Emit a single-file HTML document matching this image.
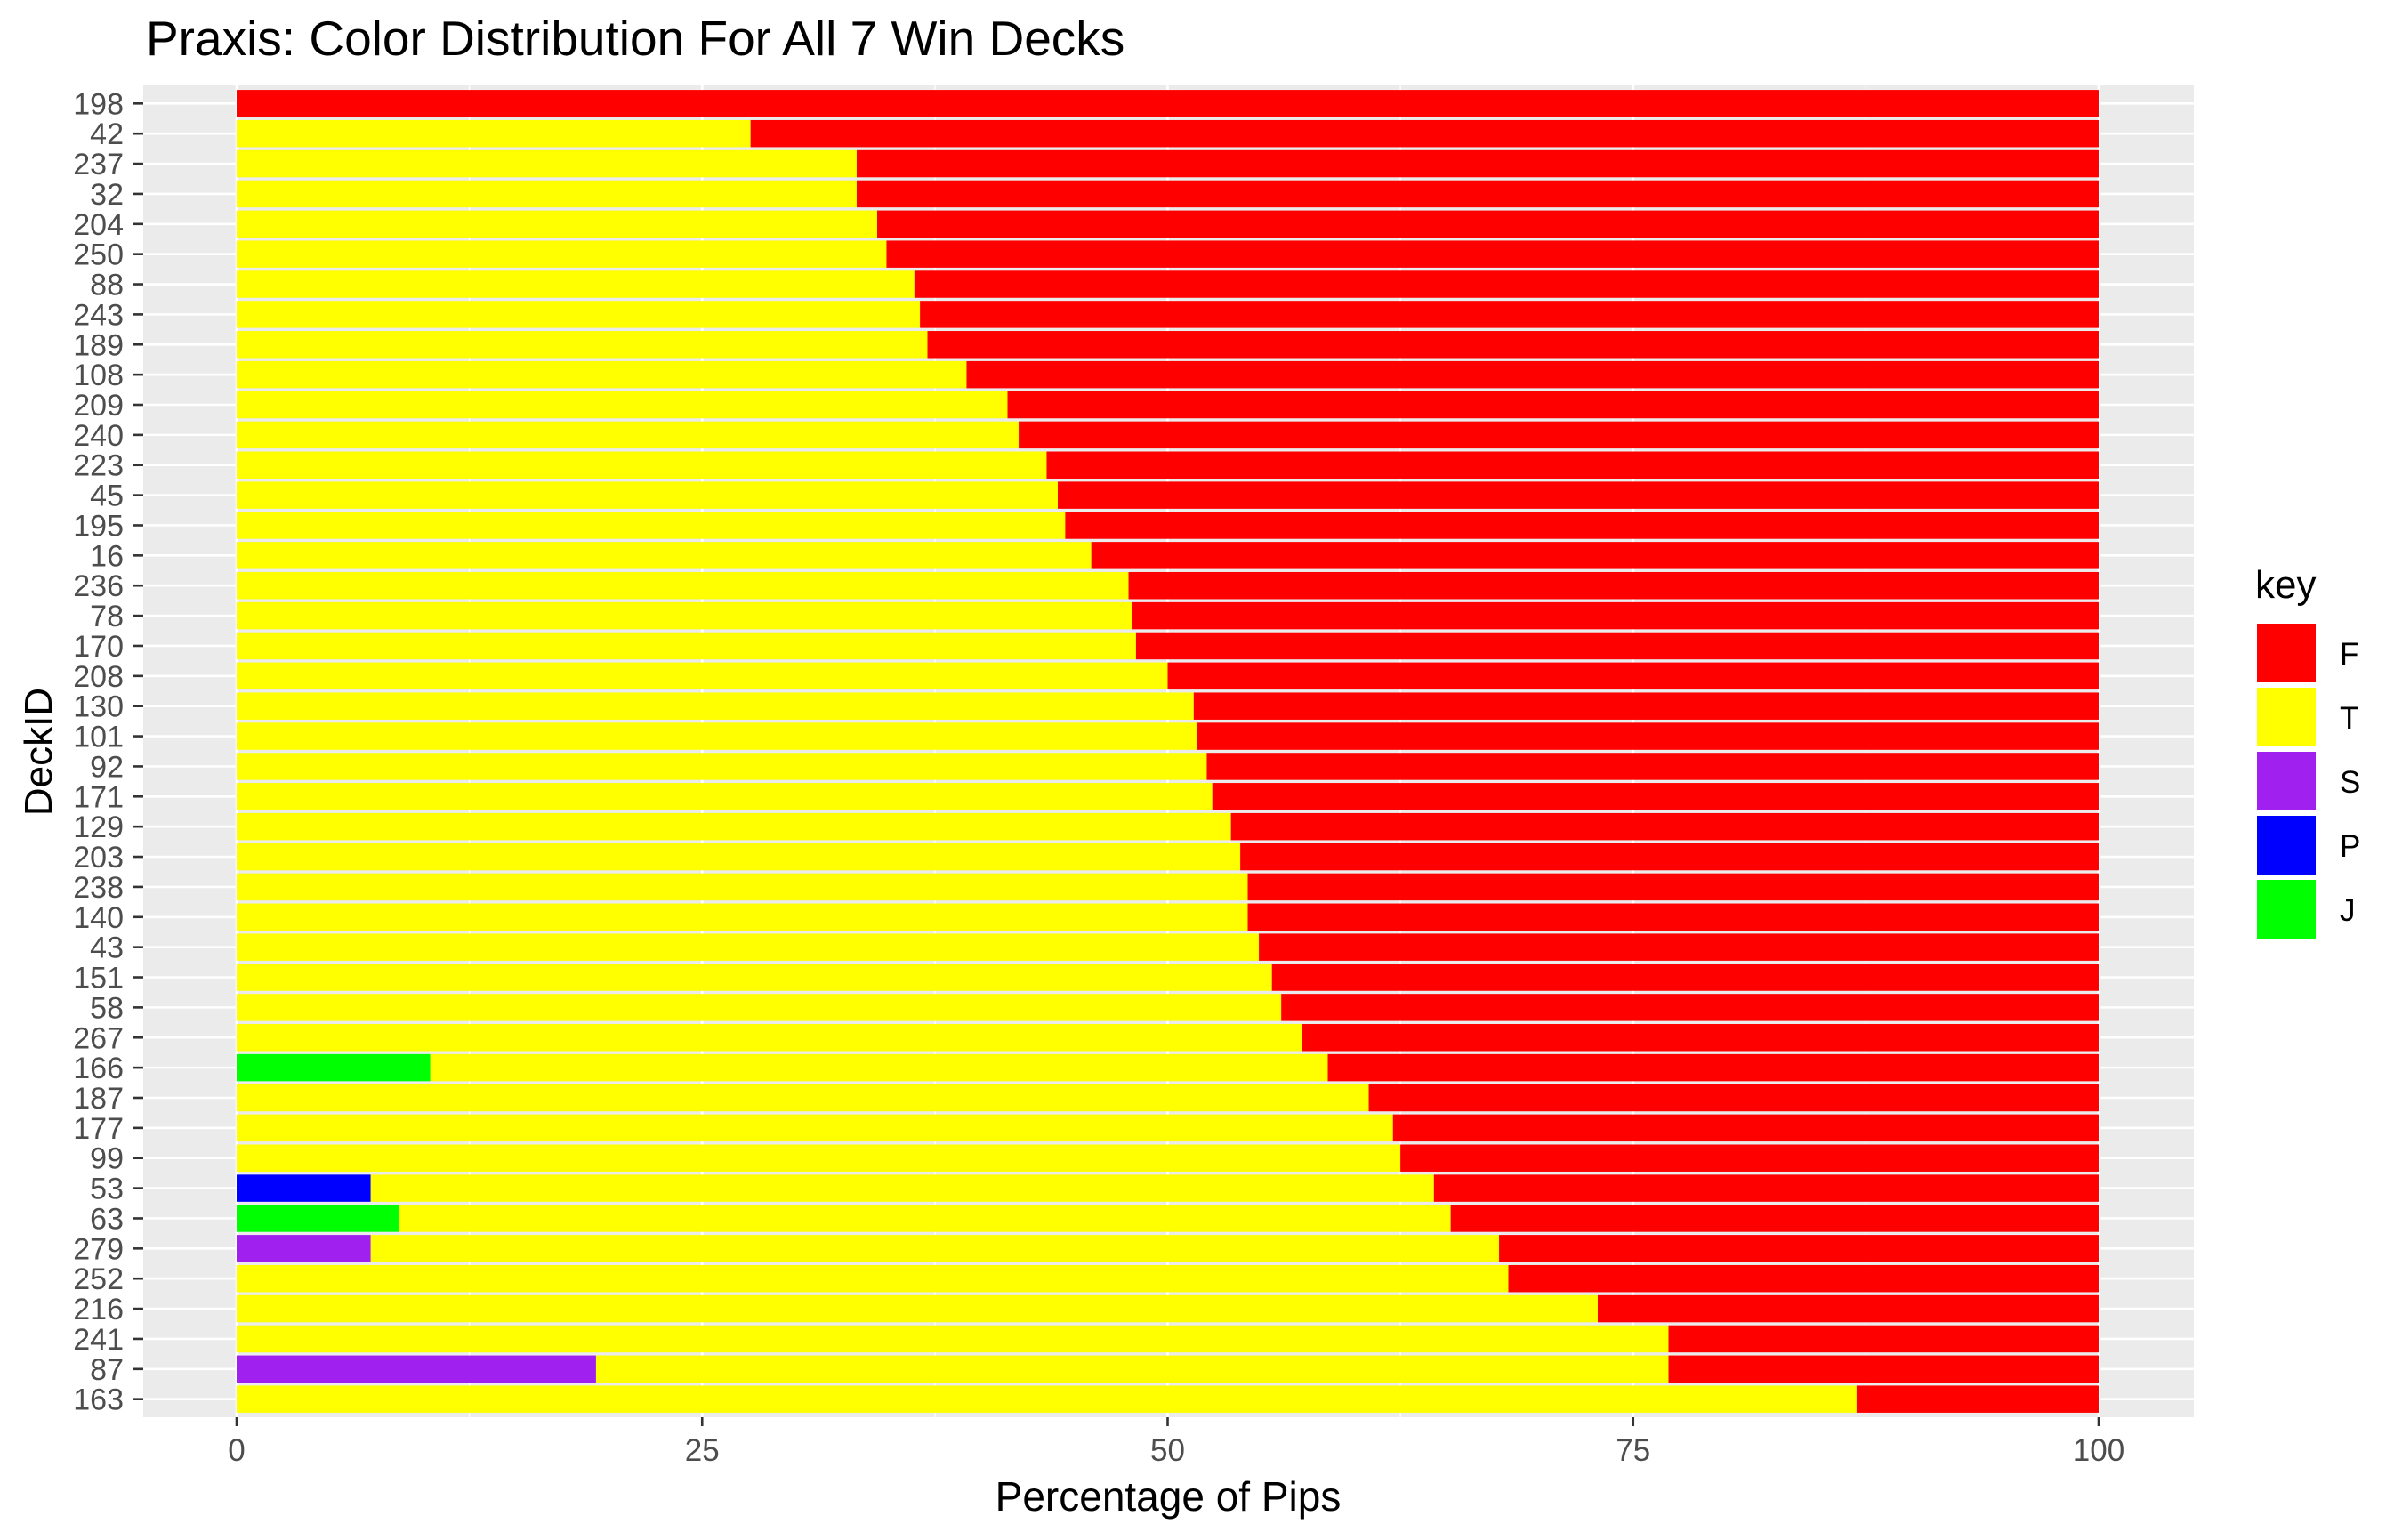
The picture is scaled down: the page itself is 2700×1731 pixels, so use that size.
<!DOCTYPE html>
<html><head><meta charset="utf-8"><style>
html,body{margin:0;padding:0;background:#fff;}
svg{display:block;font-family:"Liberation Sans",Arial,sans-serif;}
</style></head><body>
<svg id="chart" width="2700" height="1731" viewBox="0 0 2700 1731" xmlns="http://www.w3.org/2000/svg">
<text x="164" y="62" font-size="55" fill="#000">Praxis: Color Distribution For All 7 Win Decks</text>
<rect x="161" y="96" width="2305" height="1497" fill="#ebebeb"/>
<g id="grid"></g>
<g id="bars"></g>
<g id="axes"></g>
<text x="1313" y="1698" font-size="46" text-anchor="middle" fill="#000">Percentage of Pips</text>
<text transform="translate(58,845) rotate(-90)" font-size="44" text-anchor="middle" fill="#000">DeckID</text>
<g id="legend">
<text x="2535" y="672" font-size="44" fill="#000">key</text>
</g>
</svg>
<script>
const decks = ["198","42","237","32","204","250","88","243","189","108","209","240","223","45","195","16","236","78","170","208","130","101","92","171","129","203","238","140","43","151","58","267","166","187","177","99","53","63","279","252","216","241","87","163"];
const valJ = [0,0,0,0,0,0,0,0,0,0,0,0,0,0,0,0,0,0,0,0,0,0,0,0,0,0,0,0,0,0,0,0,10.4,0,0,0,0,8.7,0,0,0,0,0,0];
const valP = [0,0,0,0,0,0,0,0,0,0,0,0,0,0,0,0,0,0,0,0,0,0,0,0,0,0,0,0,0,0,0,0,0,0,0,0,7.2,0,0,0,0,0,0,0];
const valS = [0,0,0,0,0,0,0,0,0,0,0,0,0,0,0,0,0,0,0,0,0,0,0,0,0,0,0,0,0,0,0,0,0,0,0,0,0,0,7.2,0,0,0,19.3,0];
const valT = [0,27.6,33.3,33.3,34.4,34.9,36.4,36.7,37.1,39.2,41.4,42.0,43.5,44.1,44.5,45.9,47.9,48.1,48.3,50.0,51.4,51.6,52.1,52.4,53.4,53.9,54.3,54.3,54.9,55.6,56.1,57.2,48.2,60.8,62.1,62.5,57.1,56.5,60.6,68.3,73.1,76.9,57.6,87.0];
const valF = decks.map((d,i)=>100-valJ[i]-valP[i]-valS[i]-valT[i]);
const xTicks = [0,25,50,75,100];
const legendKeys = ["F","T","S","P","J"];
const colors = {F:"#ff0000",T:"#ffff00",S:"#a020f0",P:"#0000ff",J:"#00ff00"};

const NS="http://www.w3.org/2000/svg";
const panelTop=96, panelBottom=1593, panelLeft=161, panelRight=2466;
const band=(panelBottom-panelTop)/(decks.length-1+1.2);
const x=v=>266+(2359-266)*v/100;
const y=i=>panelTop+(i+0.6)*band;
function mk(tag,attrs,parent){const e=document.createElementNS(NS,tag);for(const k in attrs)e.setAttribute(k,attrs[k]);parent.appendChild(e);return e;}
const grid=document.getElementById('grid'),bars=document.getElementById('bars'),axes=document.getElementById('axes');
for(let k=0;k<xTicks.length-1;k++){const m=(xTicks[k]+xTicks[k+1])/2;
 const l=mk('line',{x1:x(m),x2:x(m),y1:panelTop,y2:panelBottom,stroke:'#fff','stroke-width':1.3},grid);
 
 }
xTicks.forEach(t=>{const l=mk('line',{x1:x(t),x2:x(t),y1:panelTop,y2:panelBottom,stroke:'#fff','stroke-width':2.6},grid);
 
 
 const tk=mk('line',{x1:x(t),x2:x(t),y1:panelBottom,y2:panelBottom+10,stroke:'#333','stroke-width':2.6},axes);
 
 
 const tx=mk('text',{x:x(t),y:1642,'font-size':35,'text-anchor':'middle',fill:'#4d4d4d'},axes);tx.textContent=t;
 
 });
const h=band*0.9;
decks.forEach((d,i)=>{
 const l=mk('line',{x1:panelLeft,x2:panelRight,y1:y(i),y2:y(i),stroke:'#fff','stroke-width':2.6},grid);
 
 
 const tk=mk('line',{x1:150,x2:161,y1:y(i),y2:y(i),stroke:'#333','stroke-width':2.6},axes);
 
 
 const tx=mk('text',{x:139,y:y(i)+12,'font-size':34,'text-anchor':'end',fill:'#4d4d4d'},axes);tx.textContent=d;
 
 
 let acc=0;
 [['J',valJ],['P',valP],['S',valS],['T',valT],['F',valF]].forEach(([k,arr])=>{
  const v=arr[i]; if(v<=0)return;
  const r=mk('rect',{x:x(acc),y:y(i)-h/2,width:x(acc+v)-x(acc),height:h,fill:colors[k]},bars);
  
  
  acc+=v;});
});
const lg=document.getElementById('legend');
legendKeys.forEach((k,i)=>{
 const r=mk('rect',{x:2537,y:701+i*72,width:66,height:66,fill:colors[k]},lg);
 
 
 const t=mk('text',{x:2630,y:747+i*72,'font-size':35,fill:'#000'},lg);t.textContent=k;
 
 
});
</script>
</body></html>
